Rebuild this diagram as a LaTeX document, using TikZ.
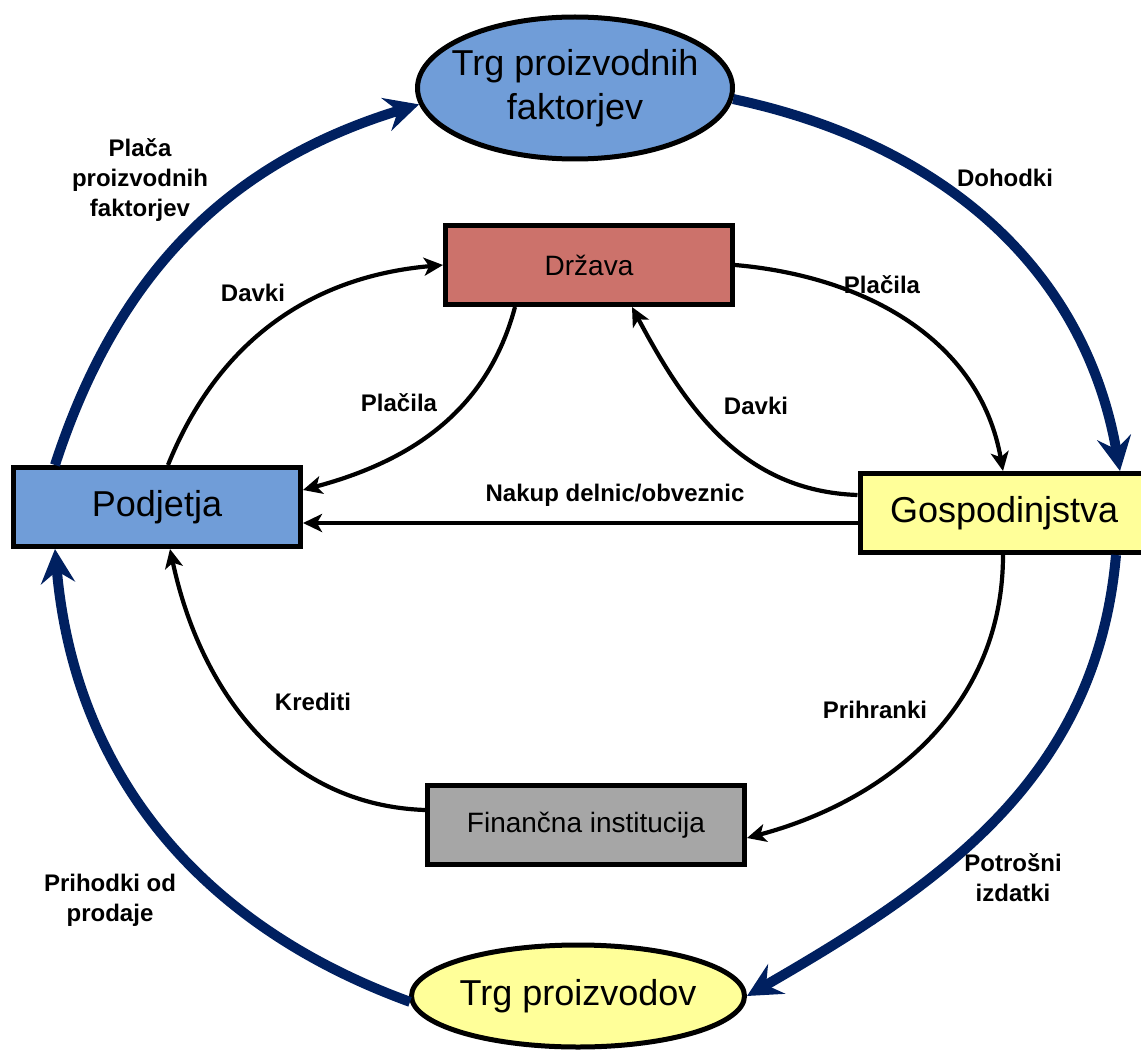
\documentclass[tikz,border=0pt]{standalone}
\usepackage{fontspec}
\setmainfont{Liberation Sans}
\usetikzlibrary{shapes.geometric,arrows.meta,positioning,calc}

\definecolor{navyflow}{RGB}{0,32,96}
\definecolor{boxblue}{RGB}{112,157,216}
\definecolor{boxred}{RGB}{204,114,107}
\definecolor{boxyellow}{RGB}{255,255,153}
\definecolor{boxgray}{RGB}{166,166,166}

\begin{document}
\begin{tikzpicture}[
  x=0.5pt,y=0.5pt,
  sector/.style={rectangle,draw,line width=2.5pt,inner sep=0pt,
    minimum width=143.5pt,minimum height=39.5pt},
  bigfont/.style={font=\fontsize{18}{22}\selectfont},
  smallfont/.style={font=\fontsize{14}{17}\selectfont},
  market/.style={ellipse,draw,line width=2.5pt,inner xsep=-20pt,inner ysep=0pt,
    align=center,font=\fontsize{18}{22}\selectfont},
  lbl/.style={font=\fontsize{12}{15}\selectfont\bfseries,align=center},
  flow/.style={-{Stealth[length=17pt,width=17pt,inset=6pt]},line width=5pt,color=navyflow},
  arr/.style={-{Stealth[length=9.5pt,width=9pt,inset=2.5pt]},line width=2.1pt}
]
\useasboundingbox (0,0) rectangle (1141,-1054);

% sectors and markets
\node[sector,fill=boxblue,bigfont] (pod) at (157,-507) {Podjetja};
\node[sector,fill=boxred,smallfont] (drz) at (589,-265) {Država};
\node[sector,fill=boxyellow,bigfont,text width=145pt,inner xsep=15pt,align=left] (gos) at (1035,-513) {Gospodinjstva};
\node[sector,fill=boxgray,smallfont,minimum width=158.5pt] (fin) at (586,-825) {Finančna institucija};
\node[market,fill=boxblue,minimum width=157.5pt,minimum height=71pt] (tpf) at (575,-88) {Trg proizvodnih\\faktorjev};
\node[market,fill=boxyellow,minimum width=166.5pt,minimum height=51pt] (tpr) at (578,-996) {Trg proizvodov};

% outer circular flow
\draw[flow] ($(pod.north)+(-102,0)$) to[out=72,in=197] (tpf.186);
\draw[flow] (tpf.-4) to[out=-12,in=100] ($(gos.north)+(85,0)$);
\draw[flow] ($(gos.south)+(81,0)$) to[out=-95,in=30] (tpr.east);
\draw[flow] (tpr.182) to[out=160,in=-85] ($(pod.south)+(-102,0)$);

% inner flows
\draw[arr] ($(pod.north)+(11,0)$) to[out=68,in=185] (drz.west);
\draw[arr] ($(drz.south)+(-74,0)$) to[out=-105,in=15] ($(pod.east)+(0,17)$);
\draw[arr] (drz.east) to[out=-5,in=100] ($(gos.north)+(-32,0)$);
\draw[arr] ($(gos.west)+(0,18)$) to[out=178,in=-62] ($(drz.south)+(43,0)$);
\draw[arr] ($(gos.west)+(0,-10)$) -- ($(pod.east)+(0,-16)$);
\draw[arr] ($(gos.south)+(-32,0)$) to[out=-90,in=15] ($(fin.east)+(0,-13)$);
\draw[arr] ($(fin.west)+(0,15)$) to[out=178,in=-78] ($(pod.south)+(13,0)$);

% labels
\node[lbl] (l1) at (140,-180) {Plača\\proizvodnih\\faktorjev};
\node[lbl] (l2) at (1005,-178) {Dohodki};
\node[lbl] (l3) at (253,-293) {Davki};
\node[lbl] (l4) at (882,-285) {Plačila};
\node[lbl] (l5) at (399,-403) {Plačila};
\node[lbl] (l6) at (756,-406) {Davki};
\node[lbl] (l7) at (615,-495) {Nakup delnic/obveznic};
\node[lbl] (l8) at (313,-702) {Krediti};
\node[lbl] (l9) at (875,-710) {Prihranki};
\node[lbl] (l10) at (110,-900) {Prihodki od\\prodaje};
\node[lbl] (l11) at (1013,-878) {Potrošni\\izdatki};
\end{tikzpicture}
\end{document}
